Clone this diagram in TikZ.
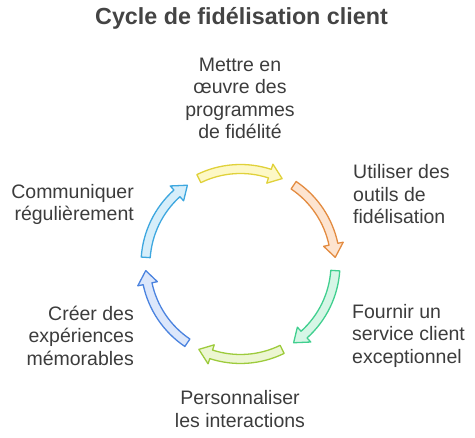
\documentclass[tikz,border=0pt]{standalone}
\usepackage{fontspec}
\setmainfont{Liberation Sans}
\definecolor{txtgrey}{HTML}{3C3C3C}
\definecolor{ttlgrey}{HTML}{444444}
\definecolor{yelline}{HTML}{E0D13A}\definecolor{yelfill}{HTML}{FDF8C6}
\definecolor{oraline}{HTML}{E38B40}\definecolor{orafill}{HTML}{FDE4D0}
\definecolor{grnline}{HTML}{40CF8F}\definecolor{grnfill}{HTML}{D6F6E6}
\definecolor{limline}{HTML}{9DCB3C}\definecolor{limfill}{HTML}{ECF6D2}
\definecolor{bluline}{HTML}{4B83DF}\definecolor{blufill}{HTML}{DCE7FB}
\definecolor{skyline}{HTML}{3DA7DF}\definecolor{skyfill}{HTML}{D6EEFA}
\tikzset{
  label/.style={inner sep=0pt, text=txtgrey, font=\fontsize{19.5}{22.5}\selectfont},
  title/.style={inner sep=0pt, text=ttlgrey, font=\bfseries\fontsize{23.3}{28}\selectfont},
  cyclearrow/.style={line width=1.3pt, line join=round}
}
\begin{document}
\begin{tikzpicture}[x=1pt,y=1pt]
	\useasboundingbox (0,0) rectangle (475,438);
	\node[title] (title) at (241.5,420) {Cycle de fidélisation client};
	
	\node[label, align=center] (programmes) at (240,339.5) {Mettre en\\œuvre des\\programmes\\de fidélité};
	\node[label, align=left, anchor=west] (outils) at (353,243.5) {Utiliser des\\outils de\\fidélisation};
	\node[label, align=left, anchor=west] (service) at (352,102.5) {Fournir un\\service client\\exceptionnel};
	\node[label, align=center] (interactions) at (240,29) {Personnaliser\\les interactions};
	\node[label, align=right, anchor=east] (experiences) at (134,102.5) {Créer des\\expériences\\mémorables};
	\node[label, align=right, anchor=east] (communiquer) at (134,233.5) {Communiquer\\régulièrement};
	
	\coordinate (centre) at (240.5,174);
	\begin{scope}[shift={(centre)}]
		\foreach \m/\col in {90/yel, 30/ora, -30/grn, -90/lim, -150/blu, 150/sky}{
			\pgfmathsetmacro\a{\m+26}
			\pgfmathsetmacro\b{\m-26}
			\pgfmathsetmacro\h{\b+8}
			\draw[cyclearrow, draw=\col line, fill=\col fill]
				(\a:99.5) arc[start angle=\a, end angle=\h, radius=99.5]
				-- (\h:105) -- (\b:95) -- (\h:85) -- (\h:90.5)
				arc[start angle=\h, end angle=\a, radius=90.5] -- cycle;
		}
	\end{scope}
\end{tikzpicture}
\end{document}
